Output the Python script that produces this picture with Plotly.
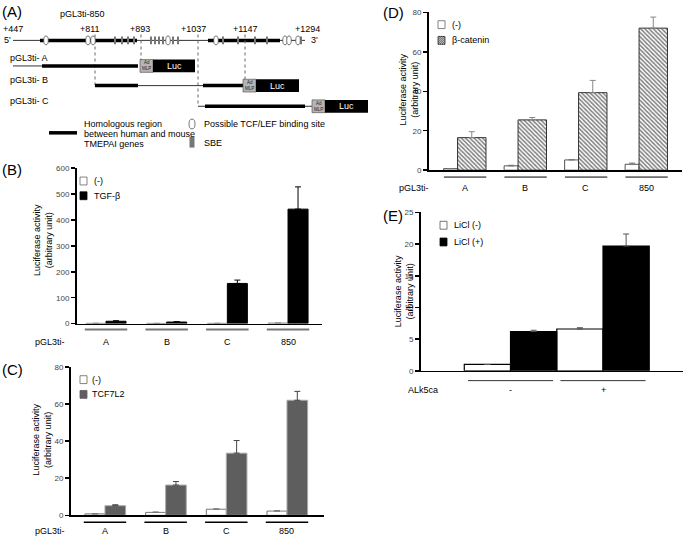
import plotly.graph_objects as go

W, H = 685, 541
FONT = "Liberation Sans, Arial, sans-serif"

# ---------------- data ----------------
groups = ["A", "B", "C", "850"]
# (B) TGF-beta
tgf_ctrl = [1.0, 0.8, 1.0, 2.0]
tgf_ctrl_err = [0, 0, 0, 0]
tgf_treat = [9, 6, 155, 442]
tgf_treat_err = [2, 1.5, 13, 86]
# (C) TCF7L2
tcf_ctrl = [0.8, 1.6, 3.3, 2.3]
tcf_ctrl_err = [0, 0.2, 0.2, 0.2]
tcf_treat = [5.2, 16.3, 33.5, 62.0]
tcf_treat_err = [0.5, 1.9, 6.8, 4.8]
# (D) beta-catenin
bcat_ctrl = [0.8, 2.2, 5.2, 3.0]
bcat_ctrl_err = [0, 0.3, 0.2, 0.6]
bcat_treat = [16.5, 25.5, 39.3, 72.0]
bcat_treat_err = [3.0, 1.2, 6.2, 5.6]
# (E) ALK5ca / LiCl
alk_groups = ["-", "+"]
licl_neg = [1.0, 6.6]
licl_neg_err = [0, 0.2]
licl_pos = [6.2, 19.7]
licl_pos_err = [0.2, 1.9]

# (A) schematic (diagram units)
site_labels = ["+447", "+811", "+893", "+1037", "+1147", "+1294"]
site_label_x = [13, 90, 140, 193, 245, 307]
main_segments = [(13, 40, "thin"), (40, 137, "thick"), (137, 208, "thin"),
                 (208, 280, "thick"), (280, 305, "thin")]
tcf_sites_x = [46, 88, 93, 168, 216, 285, 289, 298]
sbe_sites_x = [115, 122, 128, 134, 151, 155, 159, 163, 173, 178, 223, 238, 255, 267, 301]
dotted_x = [95, 141, 198, 245]
dotted_bottom = [83, 57, 104, 77]
construct_names = ["pGL3ti- A", "pGL3ti- B", "pGL3ti- C"]
construct_label_y = [55, 77, 99]
construct_y = [63, 83, 104]
construct_segments = [
    [(13, 42, "thin"), (42, 138, "thick")],
    [(95, 138, "thick"), (138, 203, "thin"), (203, 243, "thick")],
    [(198, 205, "thin"), (205, 305, "thick"), (305, 312, "thin")],
]
construct_mlp_x = [140, 243, 312]
construct_luc_end = [195, 299, 368]


def px(x):
    return x / W


def py(y):
    return 1 - y / H


fig = go.Figure()


def add_bar(xs, ys, err, ax, offset, width, color, line, err_color, pattern=None):
    marker = dict(color=color, line=line)
    if pattern:
        marker["pattern"] = pattern
    fig.add_trace(go.Bar(
        x=xs, y=ys, offset=offset, width=width,
        xaxis="x" + ax, yaxis="y" + ax, marker=marker, showlegend=False,
        error_y=dict(type="data", array=err, arrayminus=[0] * len(err), symmetric=False,
                     color=err_color, thickness=1, width=3),
        hoverinfo="skip",
    ))


xi = list(range(len(groups)))
xe = list(range(len(alk_groups)))

# B
add_bar(xi, tgf_ctrl, tgf_ctrl_err, "", -0.33, 0.33, "white", dict(color="#888", width=1), "#888")
add_bar(xi, tgf_treat, tgf_treat_err, "", 0.0, 0.33, "black", dict(color="black", width=1), "black")
# C
add_bar(xi, tcf_ctrl, tcf_ctrl_err, "2", -0.33, 0.33, "white", dict(color="#777", width=1), "#777")
add_bar(xi, tcf_treat, tcf_treat_err, "2", 0.0, 0.34, "#5e5e5e", dict(color="#aaa", width=1), "#444")
# D
add_bar(xi, bcat_ctrl, bcat_ctrl_err, "3", -0.345, 0.23, "white", dict(color="#555", width=1), "#777")
add_bar(xi, bcat_treat, bcat_treat_err, "3", -0.115, 0.47, "white", dict(color="#333", width=1), "#888",
        pattern=dict(shape="\\", fgcolor="black", bgcolor="white", size=3, solidity=0.5))
# E
add_bar(xe, licl_neg, licl_neg_err, "4", -0.5, 0.5, "white", dict(color="black", width=1.2), "#555")
add_bar(xe, licl_pos, licl_pos_err, "4", 0.0, 0.5, "black", dict(color="black", width=1.2), "#555")

yax = dict(showline=True, linecolor="black", linewidth=2, ticks="outside", ticklen=4,
           tickwidth=1.5, tickcolor="black", tickfont=dict(size=8, color="#444", family=FONT),
           showgrid=False, zeroline=False, fixedrange=True, autorange=False)
xax = dict(showline=True, linecolor="black", linewidth=1.5, showticklabels=False, ticks="",
           showgrid=False, zeroline=False, fixedrange=True, autorange=False)

fig.update_layout(
    width=W, height=H, margin=dict(l=0, r=0, t=0, b=0),
    paper_bgcolor="white", plot_bgcolor="rgba(0,0,0,0)", barmode="overlay",
    font=dict(family=FONT, size=9, color="black"),
    xaxis=dict(xax, domain=[px(77), px(322)], range=[-0.478, 3.56], anchor="y"),
    yaxis=dict(yax, domain=[py(325), py(167)], range=[0, 600], dtick=100, anchor="x"),
    xaxis2=dict(xax, domain=[px(71), px(324)], range=[-0.56, 3.61], anchor="y2"),
    yaxis2=dict(yax, domain=[py(520), py(369)], range=[0, 80], dtick=20, anchor="x2"),
    xaxis3=dict(xax, domain=[px(429), px(682)], range=[-0.587, 3.595], anchor="y3"),
    yaxis3=dict(yax, domain=[py(169), py(8.5)], range=[0, 80], dtick=20, anchor="x3"),
    xaxis4=dict(xax, domain=[px(421), px(683)], range=[-0.968, 1.865], anchor="y4"),
    yaxis4=dict(yax, domain=[py(373), py(212)], range=[0, 25], dtick=5, anchor="x4"),
    xaxis5=dict(domain=[0, 1], range=[0, W], visible=False, fixedrange=True, anchor="y5"),
    yaxis5=dict(domain=[0, 1], range=[H, 0], visible=False, fixedrange=True, anchor="x5"),
)

shapes = []
ann = []


def txt(x, y, s, size=9, xanchor="left", color="black", xref="x5", angle=0):
    ann.append(dict(x=x, y=y, xref=xref, yref="y5", text=s, showarrow=False,
                    xanchor=xanchor, yanchor="middle", textangle=angle,
                    font=dict(size=size, color=color, family=FONT)))


def hline(x0, x1, y, kind):
    if kind == "thick":
        shapes.append(dict(type="line", xref="x5", yref="y5", x0=x0, x1=x1, y0=y, y1=y,
                           line=dict(color="black", width=3.5)))
    else:
        shapes.append(dict(type="line", xref="x5", yref="y5", x0=x0, x1=x1, y0=y, y1=y,
                           line=dict(color="#333", width=1)))


def rect(x0, y0, x1, y1, fill, line=None):
    shapes.append(dict(type="rect", xref="x5", yref="y5", x0=x0, x1=x1, y0=y0, y1=y1,
                       fillcolor=fill, line=line or dict(width=0)))


def oval(xc, yc, w=4.5, h=9):
    shapes.append(dict(type="circle", xref="x5", yref="y5", x0=xc - w / 2, x1=xc + w / 2,
                       y0=yc - h / 2, y1=yc + h / 2, fillcolor="white",
                       line=dict(color="#555", width=0.8)))


# ---------- panel A ----------
txt(0, 8, "(A)", size=15)
txt(82, 10, "pGL3ti-850", xanchor="center")
for lab, lx in zip(site_labels, site_label_x):
    txt(lx, 25, lab, xanchor="center")
txt(2, 37, "5'")
txt(309, 37, "3'")
for x0, x1, k in main_segments:
    hline(x0, x1, 37, k)
for dx, db in zip(dotted_x, dotted_bottom):
    shapes.append(dict(type="line", xref="x5", yref="y5", x0=dx, x1=dx, y0=31, y1=db,
                       line=dict(color="#666", width=1, dash="dot")))
for sx in sbe_sites_x:
    rect(sx - 1, 33, sx + 1, 41, "#777")
for tx in tcf_sites_x:
    oval(tx, 37)
for name, ly, cy, segs, mx, le in zip(construct_names, construct_label_y, construct_y,
                                      construct_segments, construct_mlp_x, construct_luc_end):
    txt(8, ly, name)
    for x0, x1, k in segs:
        hline(x0, x1, cy, k)
    rect(mx, cy - 6.5, mx + 13, cy + 6.5, "#b5b5b5", dict(color="#444", width=0.6))
    txt(mx + 6.5, cy, "Ad<br>MLP", size=4.5, xanchor="center", color="#222")
    rect(mx + 13, cy - 6.5, le, cy + 6.5, "black")
    txt((mx + 13 + le) / 2, cy, "Luc", color="white", xanchor="center")

# legend of panel A
hline(49, 77, 131, "thick")
txt(82, 122, "Homologous region")
txt(82, 132, "between human and mouse")
txt(82, 142, "TMEPAI genes")
oval(192, 122, w=6, h=10)
txt(202, 122, "Possible TCF/LEF binding site")
rect(189.5, 135, 194.5, 146, "#777")
txt(202, 141, "SBE")

# ---------- bar panels text ----------
YT = "Luciferase activity<br>(arbitrary unit)"
txt(0, 168, "(B)", size=15)
txt(43, 240, YT, xanchor="center", angle=-90)
txt(0, 372, "(C)", size=15)
txt(42, 443, YT, xanchor="center", angle=-90)
txt(381, 9, "(D)", size=15)
txt(409, 87, YT, xanchor="center", angle=-90)
txt(381, 215, "(E)", size=15)
txt(404, 292, YT, xanchor="center", angle=-90)


def legend_sq(x, y, fill, line_color="#666"):
    rect(x, y - 4, x + 7, y + 4, fill, dict(color=line_color, width=0.8))


legend_sq(80, 180, "white")
txt(92, 180, "(-)")
legend_sq(80, 195, "black", "black")
txt(92, 195, "TGF-β")

legend_sq(80, 382, "white")
txt(90, 382, "(-)")
legend_sq(80, 397, "#5e5e5e", "#5e5e5e")
txt(90, 397, "TCF7L2")

legend_sq(438, 21, "white")
txt(450, 21, "(-)")
legend_sq(438, 37, "white", "#333")
hatch = ""
for k in range(-7, 8, 2):
    xa, ya = 438, 33 + k
    xb, yb = 445, 33 + k + 7
    if ya < 33:
        xa += 33 - ya
        ya = 33
    if yb > 41:
        xb -= yb - 41
        yb = 41
    if xa < xb:
        hatch += f"M{xa},{ya} L{xb},{yb} "
shapes.append(dict(type="path", xref="x5", yref="y5", path=hatch,
                   line=dict(color="black", width=0.8)))
txt(450, 37, "β-catenin")

legend_sq(440, 225, "white", "#555")
txt(452, 225, "LiCl (-)")
legend_sq(440, 242, "black", "black")
txt(452, 242, "LiCl (+)")

# group underlines and labels
for i, g in enumerate(groups):
    shapes.append(dict(type="line", xref="x", yref="y5", x0=i - 0.35, x1=i + 0.35, y0=331, y1=331,
                       line=dict(color="#777", width=2)))
    ann.append(dict(x=i, y=344, xref="x", yref="y5", text=g, showarrow=False,
                    font=dict(size=9, family=FONT)))
    shapes.append(dict(type="line", xref="x2", yref="y5", x0=i - 0.35, x1=i + 0.35, y0=527, y1=527,
                       line=dict(color="black", width=1.5)))
    ann.append(dict(x=i, y=536, xref="x2", yref="y5", text=g, showarrow=False,
                    font=dict(size=9, family=FONT)))
    shapes.append(dict(type="line", xref="x3", yref="y5", x0=i - 0.34, x1=i + 0.36, y0=176, y1=176,
                       line=dict(color="black", width=1)))
    ann.append(dict(x=i, y=187, xref="x3", yref="y5", text=g, showarrow=False,
                    font=dict(size=9, family=FONT)))
for i, g in enumerate(alk_groups):
    shapes.append(dict(type="line", xref="x4", yref="y5", x0=i - 0.46, x1=i + 0.46, y0=383, y1=383,
                       line=dict(color="#333", width=1)))
    ann.append(dict(x=i, y=393, xref="x4", yref="y5", text=g, showarrow=False,
                    font=dict(size=9, family=FONT)))

txt(50, 344, "pGL3ti-", xanchor="center")
txt(50, 536, "pGL3ti-", xanchor="center")
txt(414, 187, "pGL3ti-", xanchor="center")
txt(423, 393, "ALk5ca", xanchor="center")

fig.update_layout(shapes=shapes, annotations=ann)
fig.write_html(
    "out.html",
    config={"displayModeBar": False, "staticPlot": True},
    post_script="document.body.style.margin='0';document.body.style.overflow='hidden';",
)
